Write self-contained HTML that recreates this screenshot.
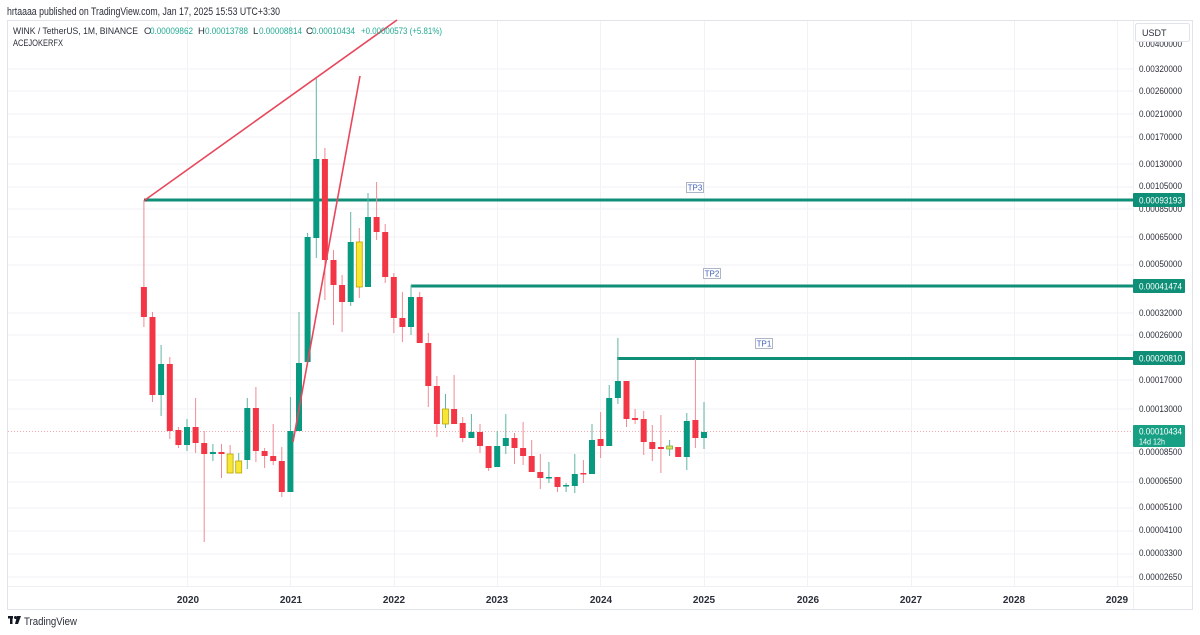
<!DOCTYPE html>
<html>
<head>
<meta charset="utf-8">
<style>
html,body{margin:0;padding:0;background:#fff;}
svg{display:block;}
text{font-family:"Liberation Sans",sans-serif;}
</style>
</head>
<body>
<svg width="1200" height="635" viewBox="0 0 1200 635" xmlns="http://www.w3.org/2000/svg">
<rect x="0" y="0" width="1200" height="635" fill="#fff"/>

<!-- header -->
<text x="7" y="15" font-size="11" fill="#2a2e39" textLength="273" lengthAdjust="spacingAndGlyphs">hrtaaaa published on TradingView.com, Jan 17, 2025 15:53 UTC+3:30</text>

<!-- frame -->
<rect x="7.5" y="20.5" width="1185" height="589" fill="none" stroke="#e0e3eb" stroke-width="1"/>

<!-- grid horizontal -->
<g stroke="#f0f2f6" stroke-width="1">
<line x1="8" y1="69" x2="1133" y2="69"/>
<line x1="8" y1="91" x2="1133" y2="91"/>
<line x1="8" y1="114" x2="1133" y2="114"/>
<line x1="8" y1="137" x2="1133" y2="137"/>
<line x1="8" y1="164" x2="1133" y2="164"/>
<line x1="8" y1="187" x2="1133" y2="187"/>
<line x1="8" y1="209" x2="1133" y2="209"/>
<line x1="8" y1="237" x2="1133" y2="237"/>
<line x1="8" y1="265" x2="1133" y2="265"/>
<line x1="8" y1="313" x2="1133" y2="313"/>
<line x1="8" y1="335" x2="1133" y2="335"/>
<line x1="8" y1="380" x2="1133" y2="380"/>
<line x1="8" y1="409" x2="1133" y2="409"/>
<line x1="8" y1="453" x2="1133" y2="453"/>
<line x1="8" y1="482" x2="1133" y2="482"/>
<line x1="8" y1="508" x2="1133" y2="508"/>
<line x1="8" y1="531" x2="1133" y2="531"/>
<line x1="8" y1="554" x2="1133" y2="554"/>
<line x1="8" y1="577" x2="1133" y2="577"/>
</g>
<!-- grid vertical -->
<g stroke="#f0f2f6" stroke-width="1">
<line x1="187.5" y1="21" x2="187.5" y2="586"/>
<line x1="290.5" y1="21" x2="290.5" y2="586"/>
<line x1="394.5" y1="21" x2="394.5" y2="586"/>
<line x1="497.5" y1="21" x2="497.5" y2="586"/>
<line x1="600.5" y1="21" x2="600.5" y2="586"/>
<line x1="704.5" y1="21" x2="704.5" y2="586"/>
<line x1="807.5" y1="21" x2="807.5" y2="586"/>
<line x1="911.5" y1="21" x2="911.5" y2="586"/>
<line x1="1014.5" y1="21" x2="1014.5" y2="586"/>
<line x1="1117.5" y1="21" x2="1117.5" y2="586"/>
</g>
<!-- axis separators -->
<line x1="1133.5" y1="21" x2="1133.5" y2="609" stroke="#eef0f4" stroke-width="1"/>
<line x1="8" y1="586.5" x2="1192" y2="586.5" stroke="#eef0f4" stroke-width="1"/>

<!-- current price dotted line -->
<line x1="8" y1="431.5" x2="1133" y2="431.5" stroke="#f7a9b1" stroke-width="1" stroke-dasharray="1,2"/>

<!-- TP lines -->
<g stroke="#0f8f77" stroke-width="3">
<line x1="145" y1="200" x2="1134" y2="200"/>
<line x1="411" y1="286" x2="1134" y2="286"/>
<line x1="617" y1="358.5" x2="1134" y2="358.5"/>
</g>
<line x1="144" y1="200" x2="147" y2="200" stroke="#555" stroke-width="3"/>

<!-- candles -->
<g id="candles">
<!-- wicks -->
<g stroke-width="1">
<line x1="143.9" y1="200" x2="143.9" y2="327" stroke="#f08a95"/>
<line x1="152.5" y1="312" x2="152.5" y2="402" stroke="#f08a95"/>
<line x1="161.1" y1="345" x2="161.1" y2="416" stroke="#5fb5a3"/>
<line x1="169.8" y1="357" x2="169.8" y2="439" stroke="#f08a95"/>
<line x1="178.4" y1="427" x2="178.4" y2="448" stroke="#f08a95"/>
<line x1="187" y1="419" x2="187" y2="451" stroke="#5fb5a3"/>
<line x1="195.6" y1="398" x2="195.6" y2="453" stroke="#f08a95"/>
<line x1="204.2" y1="431" x2="204.2" y2="542" stroke="#f08a95"/>
<line x1="212.9" y1="444" x2="212.9" y2="461" stroke="#5fb5a3"/>
<line x1="221.5" y1="444" x2="221.5" y2="478" stroke="#f08a95"/>
<line x1="230.1" y1="445" x2="230.1" y2="473" stroke="#f08a95"/>
<line x1="238.7" y1="453" x2="238.7" y2="473" stroke="#5fb5a3"/>
<line x1="247.3" y1="398" x2="247.3" y2="469" stroke="#5fb5a3"/>
<line x1="255.9" y1="387" x2="255.9" y2="462" stroke="#f08a95"/>
<line x1="264.6" y1="448" x2="264.6" y2="468" stroke="#f08a95"/>
<line x1="273.2" y1="424" x2="273.2" y2="465" stroke="#f08a95"/>
<line x1="281.8" y1="447" x2="281.8" y2="497" stroke="#f08a95"/>
<line x1="290.4" y1="397" x2="290.4" y2="492" stroke="#5fb5a3"/>
<line x1="299.0" y1="312" x2="299.0" y2="431" stroke="#5fb5a3"/>
<line x1="307.6" y1="233" x2="307.6" y2="362" stroke="#5fb5a3"/>
<line x1="316.3" y1="77" x2="316.3" y2="258" stroke="#5fb5a3"/>
<line x1="324.9" y1="148" x2="324.9" y2="300" stroke="#f08a95"/>
<line x1="333.5" y1="250" x2="333.5" y2="325" stroke="#f08a95"/>
<line x1="342.1" y1="275" x2="342.1" y2="332" stroke="#f08a95"/>
<line x1="350.7" y1="212" x2="350.7" y2="306" stroke="#5fb5a3"/>
<line x1="359.3" y1="228" x2="359.3" y2="298" stroke="#f08a95"/>
<line x1="368.0" y1="193" x2="368.0" y2="287" stroke="#5fb5a3"/>
<line x1="376.6" y1="182" x2="376.6" y2="240" stroke="#f08a95"/>
<line x1="385.2" y1="224" x2="385.2" y2="283" stroke="#f08a95"/>
<line x1="393.8" y1="273" x2="393.8" y2="333" stroke="#f08a95"/>
<line x1="402.4" y1="292" x2="402.4" y2="342" stroke="#f08a95"/>
<line x1="411.0" y1="285" x2="411.0" y2="335" stroke="#5fb5a3"/>
<line x1="419.7" y1="292" x2="419.7" y2="343" stroke="#f08a95"/>
<line x1="428.3" y1="333" x2="428.3" y2="407" stroke="#f08a95"/>
<line x1="436.9" y1="376" x2="436.9" y2="437" stroke="#f08a95"/>
<line x1="445.5" y1="394" x2="445.5" y2="428" stroke="#5fb5a3"/>
<line x1="454.1" y1="375" x2="454.1" y2="424" stroke="#f08a95"/>
<line x1="462.7" y1="417" x2="462.7" y2="442" stroke="#f08a95"/>
<line x1="471.4" y1="414" x2="471.4" y2="438" stroke="#5fb5a3"/>
<line x1="480.0" y1="424" x2="480.0" y2="453" stroke="#f08a95"/>
<line x1="488.6" y1="446" x2="488.6" y2="471" stroke="#f08a95"/>
<line x1="497.2" y1="431" x2="497.2" y2="467" stroke="#5fb5a3"/>
<line x1="505.8" y1="414" x2="505.8" y2="454" stroke="#5fb5a3"/>
<line x1="514.5" y1="433" x2="514.5" y2="464" stroke="#f08a95"/>
<line x1="523.1" y1="422" x2="523.1" y2="465" stroke="#f08a95"/>
<line x1="531.7" y1="440" x2="531.7" y2="472" stroke="#f08a95"/>
<line x1="540.3" y1="454" x2="540.3" y2="489" stroke="#f08a95"/>
<line x1="548.9" y1="462" x2="548.9" y2="483" stroke="#5fb5a3"/>
<line x1="557.5" y1="477" x2="557.5" y2="492" stroke="#f08a95"/>
<line x1="566.1" y1="483" x2="566.1" y2="492" stroke="#5fb5a3"/>
<line x1="574.8" y1="454" x2="574.8" y2="493" stroke="#5fb5a3"/>
<line x1="583.4" y1="460" x2="583.4" y2="483" stroke="#f08a95"/>
<line x1="592.0" y1="424" x2="592.0" y2="474" stroke="#5fb5a3"/>
<line x1="600.6" y1="412" x2="600.6" y2="458" stroke="#f08a95"/>
<line x1="609.2" y1="385" x2="609.2" y2="446" stroke="#5fb5a3"/>
<line x1="617.9" y1="338" x2="617.9" y2="404" stroke="#5fb5a3"/>
<line x1="626.5" y1="381" x2="626.5" y2="427" stroke="#f08a95"/>
<line x1="635.1" y1="409" x2="635.1" y2="424" stroke="#f08a95"/>
<line x1="643.7" y1="411" x2="643.7" y2="455" stroke="#f08a95"/>
<line x1="652.3" y1="425" x2="652.3" y2="461" stroke="#f08a95"/>
<line x1="660.9" y1="415" x2="660.9" y2="473" stroke="#f08a95"/>
<line x1="669.6" y1="440" x2="669.6" y2="456" stroke="#5fb5a3"/>
<line x1="678.2" y1="447" x2="678.2" y2="457" stroke="#f08a95"/>
<line x1="686.8" y1="413" x2="686.8" y2="470" stroke="#5fb5a3"/>
<line x1="695.4" y1="359" x2="695.4" y2="448" stroke="#f08a95"/>
<line x1="704.0" y1="402" x2="704.0" y2="449" stroke="#5fb5a3"/>
</g>
<!-- bodies -->
<g>
<rect x="140.9" y="287" width="6" height="30" fill="#f23645"/>
<rect x="149.5" y="317" width="6" height="78" fill="#f23645"/>
<rect x="158.1" y="364" width="6" height="31" fill="#089981"/>
<rect x="166.8" y="364" width="6" height="67" fill="#f23645"/>
<rect x="175.4" y="430" width="6" height="15" fill="#f23645"/>
<rect x="184" y="427" width="6" height="18" fill="#089981"/>
<rect x="192.6" y="427" width="6" height="16" fill="#f23645"/>
<rect x="201.2" y="443" width="6" height="11" fill="#f23645"/>
<rect x="209.9" y="452" width="6" height="2" fill="#089981"/>
<rect x="218.5" y="452" width="6" height="2" fill="#f23645"/>
<rect x="227.1" y="454" width="6" height="19" fill="#f7e734" stroke="#b8a400" stroke-width="0.8"/>
<rect x="235.7" y="461" width="6" height="12" fill="#f7e734" stroke="#b8a400" stroke-width="0.8"/>
<rect x="244.3" y="408" width="6" height="52" fill="#089981"/>
<rect x="252.9" y="408" width="6" height="43" fill="#f23645"/>
<rect x="261.6" y="451" width="6" height="5" fill="#f23645"/>
<rect x="270.2" y="456" width="6" height="5" fill="#f23645"/>
<rect x="278.8" y="461" width="6" height="31" fill="#f23645"/>
<rect x="287.4" y="431" width="6" height="61" fill="#089981"/>
<rect x="296.0" y="363" width="6" height="68" fill="#089981"/>
<rect x="304.6" y="237" width="6" height="125" fill="#089981"/>
<rect x="313.3" y="159" width="6" height="79" fill="#089981"/>
<rect x="321.9" y="159" width="6" height="101" fill="#f23645"/>
<rect x="330.5" y="260" width="6" height="25" fill="#f23645"/>
<rect x="339.1" y="285" width="6" height="17" fill="#f23645"/>
<rect x="347.7" y="242" width="6" height="60" fill="#089981"/>
<rect x="356.3" y="242" width="6" height="45" fill="#f7e734" stroke="#b8a400" stroke-width="0.8"/>
<rect x="365.0" y="217" width="6" height="70" fill="#089981"/>
<rect x="373.6" y="217" width="6" height="15" fill="#f23645"/>
<rect x="382.2" y="232" width="6" height="45" fill="#f23645"/>
<rect x="390.8" y="277" width="6" height="41" fill="#f23645"/>
<rect x="399.4" y="318" width="6" height="9" fill="#f23645"/>
<rect x="408.0" y="297" width="6" height="30" fill="#089981"/>
<rect x="416.7" y="297" width="6" height="46" fill="#f23645"/>
<rect x="425.3" y="343" width="6" height="43" fill="#f23645"/>
<rect x="433.9" y="386" width="6" height="38" fill="#f23645"/>
<rect x="442.5" y="409" width="6" height="15" fill="#f7e734" stroke="#b8a400" stroke-width="0.8"/>
<rect x="451.1" y="409" width="6" height="15" fill="#f23645"/>
<rect x="459.7" y="423" width="6" height="15" fill="#f23645"/>
<rect x="468.4" y="432" width="6" height="6" fill="#089981"/>
<rect x="477.0" y="432" width="6" height="14" fill="#f23645"/>
<rect x="485.6" y="446" width="6" height="22" fill="#f23645"/>
<rect x="494.2" y="446" width="6" height="21" fill="#089981"/>
<rect x="502.8" y="438" width="6" height="8" fill="#089981"/>
<rect x="511.5" y="438" width="6" height="10" fill="#f23645"/>
<rect x="520.1" y="448" width="6" height="8" fill="#f23645"/>
<rect x="528.7" y="456" width="6" height="16" fill="#f23645"/>
<rect x="537.3" y="472" width="6" height="6" fill="#f23645"/>
<rect x="545.9" y="477" width="6" height="1.5" fill="#089981"/>
<rect x="554.5" y="477" width="6" height="10" fill="#f23645"/>
<rect x="563.1" y="485" width="6" height="1.5" fill="#089981"/>
<rect x="571.8" y="474" width="6" height="12" fill="#089981"/>
<rect x="580.4" y="473" width="6" height="1.5" fill="#f23645"/>
<rect x="589.0" y="440" width="6" height="34" fill="#089981"/>
<rect x="597.6" y="439" width="6" height="7" fill="#f23645"/>
<rect x="606.2" y="398" width="6" height="48" fill="#089981"/>
<rect x="614.9" y="381" width="6" height="17" fill="#089981"/>
<rect x="623.5" y="381" width="6" height="38" fill="#f23645"/>
<rect x="632.1" y="418" width="6" height="2" fill="#f23645"/>
<rect x="640.7" y="419" width="6" height="23" fill="#f23645"/>
<rect x="649.3" y="442" width="6" height="7" fill="#f23645"/>
<rect x="657.9" y="447" width="6" height="2" fill="#f23645"/>
<rect x="666.6" y="446" width="6" height="3" fill="#d9e85a" stroke="#7fae3e" stroke-width="0.8"/>
<rect x="675.2" y="447" width="6" height="10" fill="#f23645"/>
<rect x="683.8" y="421" width="6" height="36" fill="#089981"/>
<rect x="692.4" y="420" width="6" height="18" fill="#f23645"/>
<rect x="701.0" y="432" width="6" height="6" fill="#089981"/>
</g>
</g>

<!-- red trend lines -->
<g stroke="#e8475c" stroke-width="1.6" fill="none">
<line x1="145" y1="200" x2="397" y2="20"/>
<line x1="293" y1="442" x2="360" y2="76"/>
</g>

<!-- TP labels -->
<g font-size="8" fill="#3d5fb8">
<rect x="686.5" y="182.5" width="17" height="10" fill="#fff" stroke="#9aa4b8" stroke-width="0.8"/>
<text x="695" y="190.5" text-anchor="middle">TP3</text>
<rect x="703.5" y="268.5" width="17" height="10" fill="#fff" stroke="#9aa4b8" stroke-width="0.8"/>
<text x="712" y="276.5" text-anchor="middle">TP2</text>
<rect x="755.5" y="338.5" width="17" height="10" fill="#fff" stroke="#9aa4b8" stroke-width="0.8"/>
<text x="764" y="346.5" text-anchor="middle">TP1</text>
</g>

<!-- legend -->
<g font-size="9.5">
<text x="13" y="34" fill="#2a2e39" textLength="125" lengthAdjust="spacingAndGlyphs">WINK / TetherUS, 1M, BINANCE</text>
<text x="144" y="34" fill="#2a2e39">O</text>
<text x="150" y="34" fill="#22ab94" textLength="43" lengthAdjust="spacingAndGlyphs">0.00009862</text>
<text x="198" y="34" fill="#2a2e39">H</text>
<text x="205" y="34" fill="#22ab94" textLength="43" lengthAdjust="spacingAndGlyphs">0.00013788</text>
<text x="253" y="34" fill="#2a2e39">L</text>
<text x="259" y="34" fill="#22ab94" textLength="43" lengthAdjust="spacingAndGlyphs">0.00008814</text>
<text x="306" y="34" fill="#2a2e39">C</text>
<text x="312" y="34" fill="#22ab94" textLength="43" lengthAdjust="spacingAndGlyphs">0.00010434</text>
<text x="361" y="34" fill="#22ab94" textLength="81" lengthAdjust="spacingAndGlyphs">+0.00000573 (+5.81%)</text>
<text x="13" y="46" fill="#2a2e39" textLength="50" lengthAdjust="spacingAndGlyphs">ACEJOKERFX</text>
</g>

<!-- price axis labels -->
<g font-size="9" fill="#2a2e39">
<text x="1139" y="47" textLength="43" lengthAdjust="spacingAndGlyphs">0.00400000</text>
<text x="1139" y="72" textLength="43" lengthAdjust="spacingAndGlyphs">0.00320000</text>
<text x="1139" y="94" textLength="43" lengthAdjust="spacingAndGlyphs">0.00260000</text>
<text x="1139" y="117" textLength="43" lengthAdjust="spacingAndGlyphs">0.00210000</text>
<text x="1139" y="140" textLength="43" lengthAdjust="spacingAndGlyphs">0.00170000</text>
<text x="1139" y="167" textLength="43" lengthAdjust="spacingAndGlyphs">0.00130000</text>
<text x="1139" y="189" textLength="43" lengthAdjust="spacingAndGlyphs">0.00105000</text>
<text x="1139" y="212" textLength="43" lengthAdjust="spacingAndGlyphs">0.00085000</text>
<text x="1139" y="240" textLength="43" lengthAdjust="spacingAndGlyphs">0.00065000</text>
<text x="1139" y="267" textLength="43" lengthAdjust="spacingAndGlyphs">0.00050000</text>
<text x="1139" y="316" textLength="43" lengthAdjust="spacingAndGlyphs">0.00032000</text>
<text x="1139" y="338" textLength="43" lengthAdjust="spacingAndGlyphs">0.00026000</text>
<text x="1139" y="383" textLength="43" lengthAdjust="spacingAndGlyphs">0.00017000</text>
<text x="1139" y="412" textLength="43" lengthAdjust="spacingAndGlyphs">0.00013000</text>
<text x="1139" y="455" textLength="43" lengthAdjust="spacingAndGlyphs">0.00008500</text>
<text x="1139" y="484" textLength="43" lengthAdjust="spacingAndGlyphs">0.00006500</text>
<text x="1139" y="510" textLength="43" lengthAdjust="spacingAndGlyphs">0.00005100</text>
<text x="1139" y="533" textLength="43" lengthAdjust="spacingAndGlyphs">0.00004100</text>
<text x="1139" y="556" textLength="43" lengthAdjust="spacingAndGlyphs">0.00003300</text>
<text x="1139" y="580" textLength="43" lengthAdjust="spacingAndGlyphs">0.00002650</text>
</g>

<!-- USDT box -->
<rect x="1135.5" y="23.5" width="54" height="18" rx="2" fill="#fff" stroke="#e0e3eb" stroke-width="1"/>
<text x="1142" y="36" font-size="9" fill="#2a2e39">USDT</text>

<!-- green price labels -->
<g font-size="9" fill="#fff">
<rect x="1133" y="193" width="52" height="14" rx="1" fill="#0f8f77"/>
<text x="1139" y="203.5" textLength="43" lengthAdjust="spacingAndGlyphs">0.00093193</text>
<rect x="1133" y="279" width="52" height="14" rx="1" fill="#0f8f77"/>
<text x="1139" y="289.5" textLength="43" lengthAdjust="spacingAndGlyphs">0.00041474</text>
<rect x="1133" y="351" width="52" height="14" rx="1" fill="#0f8f77"/>
<text x="1139" y="361.5" textLength="43" lengthAdjust="spacingAndGlyphs">0.00020810</text>
<rect x="1133" y="425" width="52" height="22" rx="1" fill="#18a085"/>
<text x="1139" y="434.5" textLength="43" lengthAdjust="spacingAndGlyphs">0.00010434</text>
<text x="1139" y="444.5" font-size="8.5" textLength="26" lengthAdjust="spacingAndGlyphs">14d 12h</text>
</g>

<!-- time axis -->
<g font-size="10" font-weight="bold" fill="#2a2e39" text-anchor="middle">
<text x="188" y="603">2020</text>
<text x="291" y="603">2021</text>
<text x="394" y="603">2022</text>
<text x="497" y="603">2023</text>
<text x="601" y="603">2024</text>
<text x="704" y="603">2025</text>
<text x="808" y="603">2026</text>
<text x="911" y="603">2027</text>
<text x="1014" y="603">2028</text>
<text x="1117" y="603">2029</text>
</g>

<!-- TradingView logo -->
<g fill="#131722">
<rect x="8" y="616" width="5" height="2.5"/>
<rect x="10" y="616" width="2.5" height="8"/>
<circle cx="15.5" cy="617.5" r="1.5"/>
<polygon points="17,616 21,616 18,624 15,624"/>
</g>
<text x="24" y="625" font-size="11" fill="#2a2e39" textLength="53" lengthAdjust="spacingAndGlyphs">TradingView</text>
</svg>
</body>
</html>
